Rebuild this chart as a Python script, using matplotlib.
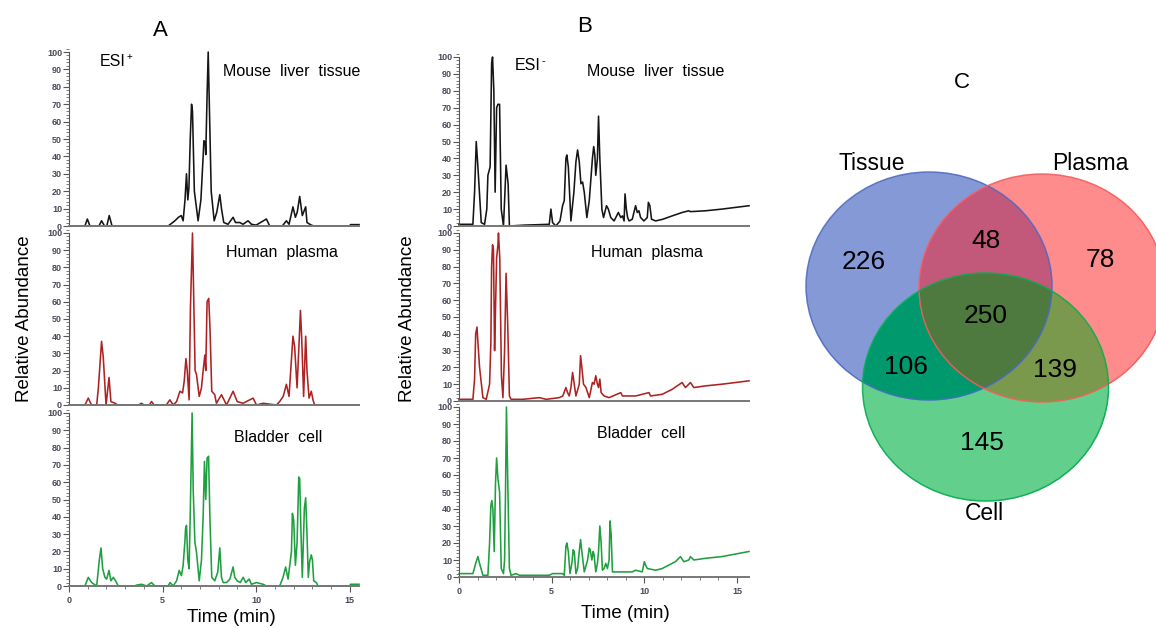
import numpy as np
import matplotlib
matplotlib.use("Agg")
import matplotlib.pyplot as plt
from matplotlib.patches import Ellipse
from matplotlib.ticker import MultipleLocator

plt.rcParams['font.family'] = ['Liberation Sans', 'DejaVu Sans']

# chromatograms: (time in min, relative abundance)
a_liver = [(0, 0), (0.85, 0), (0.98, 4), (1.12, 0), (1.6, 0), (1.74, 3), (1.9, 0), (2.02, 0), (2.15, 6), (2.3, 0),
           (5.3, 0), (5.66, 3), (5.85, 5), (6.0, 6), (6.1, 3), (6.2, 15), (6.28, 30), (6.35, 15), (6.41, 22),
           (6.48, 50), (6.55, 70), (6.6, 66), (6.7, 20), (6.9, 3), (7.05, 15), (7.17, 40), (7.21, 49), (7.28, 48),
           (7.31, 41), (7.38, 75), (7.44, 100), (7.49, 75), (7.6, 20), (7.76, 3), (7.9, 8), (8.06, 18), (8.15, 10),
           (8.27, 2), (8.5, 1), (8.77, 5), (8.9, 2), (9.13, 2), (9.3, 1), (9.57, 3), (9.75, 1), (10.0, 0.5),
           (10.55, 4), (10.73, 0), (11.4, 0), (11.62, 3), (11.76, 1), (11.97, 11), (12.1, 5), (12.2, 8),
           (12.33, 17), (12.47, 6), (12.65, 11), (12.72, 2), (12.95, 0.5), (13.1, 0), (15.0, 0), (15.05, 0.8),
           (15.5, 0.8)]
a_plasma = [(0, 0), (0.85, 0), (1.03, 4), (1.2, 0), (1.48, 0), (1.57, 10), (1.74, 37), (1.83, 28), (1.98, 0),
            (2.14, 16), (2.24, 2), (2.46, 1), (2.6, 0), (3.7, 0), (3.88, 1), (4.0, 0), (4.3, 0), (4.41, 2),
            (4.55, 0), (5.2, 0), (5.39, 3), (5.57, 0), (5.75, 2), (5.93, 8), (6.07, 7), (6.16, 14), (6.25, 27),
            (6.32, 20), (6.42, 3), (6.49, 56), (6.6, 100), (6.67, 60), (6.74, 20), (6.81, 18), (6.96, 5),
            (7.08, 10), (7.17, 20), (7.26, 29), (7.31, 20), (7.38, 60), (7.47, 62), (7.54, 43), (7.63, 8),
            (7.79, 6), (7.88, 1), (8.15, 6), (8.42, 0), (8.77, 8), (8.99, 2), (9.3, 1), (9.48, 2), (9.66, 3),
            (9.84, 4), (10.02, 0), (10.37, 1), (11.09, 0), (11.26, 2), (11.45, 5), (11.62, 12), (11.76, 5),
            (11.97, 40), (12.06, 34), (12.19, 10), (12.28, 32), (12.37, 55), (12.44, 38), (12.54, 5), (12.65, 40),
            (12.72, 20), (12.83, 4), (12.95, 8), (13.04, 3), (13.13, 0), (15.5, 0)]
a_cell = [(0, 0), (0.85, 0), (1.03, 5), (1.21, 2), (1.48, 0), (1.62, 15), (1.71, 22), (1.80, 10), (1.92, 5),
          (2.01, 4), (2.14, 9), (2.24, 3), (2.37, 5), (2.49, 3), (2.63, 0), (3.5, 0), (3.61, 0.5), (3.88, 1),
          (4.15, 0), (4.41, 2), (4.59, 0), (5.3, 0), (5.4, 2), (5.57, 0), (5.75, 3), (5.89, 9), (6.01, 6),
          (6.10, 12), (6.19, 25), (6.23, 33), (6.28, 35), (6.35, 15), (6.42, 10), (6.49, 47), (6.58, 100),
          (6.64, 55), (6.73, 25), (6.81, 20), (6.96, 3), (7.08, 15), (7.17, 40), (7.24, 72), (7.31, 50),
          (7.38, 74), (7.46, 75), (7.53, 40), (7.63, 5), (7.79, 3), (7.95, 8), (8.06, 22), (8.15, 5), (8.24, 2),
          (8.42, 2), (8.6, 4), (8.77, 11), (8.86, 5), (8.99, 3), (9.15, 2), (9.31, 5), (9.45, 2), (9.63, 4),
          (9.75, 1), (10.02, 2), (10.37, 1), (10.55, 0), (11.26, 0), (11.44, 5), (11.58, 11), (11.71, 4),
          (11.89, 20), (11.94, 42), (12.01, 38), (12.10, 12), (12.19, 25), (12.28, 63), (12.33, 62), (12.40, 30),
          (12.47, 5), (12.58, 45), (12.65, 51), (12.72, 30), (12.79, 5), (12.86, 14), (12.95, 18), (13.01, 15),
          (13.08, 3), (13.22, 2), (13.31, 0), (15.0, 0), (15.05, 1), (15.5, 1)]

b_liver = [(0, 1), (0.75, 1), (0.84, 20), (0.93, 50), (1.02, 35), (1.20, 2), (1.38, 1), (1.50, 10), (1.56, 30),
           (1.68, 35), (1.76, 96), (1.81, 100), (1.88, 80), (1.95, 20), (2.03, 70), (2.10, 72), (2.19, 72),
           (2.28, 10), (2.40, 0), (2.46, 15), (2.54, 36), (2.65, 25), (2.72, 0), (3.5, 0.5), (4.87, 1), (4.96, 10),
           (5.05, 2), (5.23, 0), (5.45, 3), (5.59, 12), (5.68, 15), (5.77, 40), (5.82, 42), (5.90, 35), (6.04, 3),
           (6.2, 20), (6.31, 38), (6.40, 45), (6.49, 38), (6.58, 25), (6.67, 26), (6.76, 20), (6.90, 5),
           (7.03, 15), (7.20, 40), (7.27, 47), (7.33, 42), (7.38, 30), (7.47, 40), (7.53, 65), (7.60, 40),
           (7.71, 10), (7.80, 5), (7.96, 12), (8.06, 10), (8.19, 5), (8.37, 3), (8.60, 8), (8.73, 5), (8.82, 6),
           (8.91, 3), (8.96, 19), (9.03, 10), (9.10, 5), (9.18, 3), (9.35, 4), (9.53, 12), (9.62, 8), (9.71, 9),
           (9.80, 5), (9.98, 3), (10.16, 5), (10.22, 14), (10.30, 12), (10.39, 4), (10.61, 3), (11.0, 4),
           (11.51, 6), (12.04, 8), (12.40, 9), (12.49, 8.5), (13.30, 9), (14.19, 10), (15.65, 12)]
b_plasma = [(0, 1), (0.75, 1), (0.84, 13), (0.90, 40), (0.97, 44), (1.02, 35), (1.11, 20), (1.29, 2), (1.47, 1),
            (1.65, 10), (1.72, 35), (1.76, 80), (1.81, 93), (1.86, 90), (1.92, 30), (1.97, 55), (2.03, 85),
            (2.10, 93), (2.13, 100), (2.20, 85), (2.29, 15), (2.37, 2), (2.46, 30), (2.54, 76), (2.63, 45),
            (2.72, 3), (2.81, 1), (3.44, 1), (4.34, 2), (4.70, 1), (5.41, 2), (5.60, 3), (5.77, 8), (5.86, 5),
            (5.95, 3), (6.04, 8), (6.13, 17), (6.22, 10), (6.31, 3), (6.49, 10), (6.56, 27), (6.63, 20),
            (6.72, 10), (6.85, 8), (7.03, 2), (7.20, 11), (7.29, 10), (7.38, 15), (7.47, 10), (7.53, 8),
            (7.60, 13), (7.67, 5), (7.83, 3), (8.10, 2), (8.73, 5), (8.82, 3), (9.53, 3), (10.25, 5), (10.34, 3),
            (10.97, 4), (11.51, 7), (12.04, 11), (12.22, 8), (12.49, 11), (12.67, 8), (13.30, 9), (14.19, 10),
            (15.65, 12)]
b_cell = [(0, 2), (0.75, 2), (0.90, 8), (1.02, 12), (1.11, 8), (1.29, 1), (1.56, 1), (1.65, 20), (1.72, 42),
          (1.77, 45), (1.83, 40), (1.90, 15), (1.97, 55), (2.03, 70), (2.10, 58), (2.19, 50), (2.28, 5), (2.40, 2),
          (2.46, 10), (2.51, 50), (2.56, 100), (2.63, 57), (2.72, 5), (2.81, 1), (3.08, 2), (3.26, 1), (4.34, 1),
          (4.87, 1), (5.05, 2), (5.59, 2), (5.68, 1), (5.77, 18), (5.82, 20), (5.90, 15), (5.99, 2), (6.09, 8),
          (6.16, 16), (6.22, 15), (6.31, 2), (6.40, 5), (6.49, 15), (6.56, 22), (6.63, 15), (6.76, 3), (6.94, 10),
          (7.03, 17), (7.08, 16), (7.17, 10), (7.24, 15), (7.29, 13), (7.38, 3), (7.47, 8), (7.53, 15),
          (7.60, 30), (7.67, 20), (7.74, 4), (7.83, 5), (7.92, 8), (8.01, 5), (8.10, 10), (8.15, 33), (8.21, 25),
          (8.28, 3), (8.64, 3), (9.35, 3), (9.53, 4), (9.89, 3), (10.0, 9), (10.07, 7), (10.16, 5), (10.61, 4),
          (10.97, 5), (11.68, 9), (11.95, 12), (12.13, 9), (12.40, 10), (12.49, 12), (12.67, 10), (13.30, 11),
          (14.19, 12), (15.65, 15)]

sample_names = ["Mouse  liver  tissue", "Human  plasma", "Bladder  cell"]
trace_colors = ["#151515", "#ad2323", "#1f9f3f"]

# venn
set_names = ["Tissue", "Plasma", "Cell"]
only_tissue, only_plasma, only_cell = 226, 78, 145
tissue_plasma, tissue_cell, plasma_cell = 48, 106, 139
all_three = 250

W, H = 1156, 628
fig = plt.figure(figsize=(W / 100, H / 100), dpi=100)


def add_ax(left, y0, width, per_unit):
    height = per_unit * 102
    return fig.add_axes([left / W, 1 - y0 / H, width / W, height / H])


def style(ax, xmax, show_x):
    ax.set_facecolor("none")
    ax.set_xlim(0, xmax)
    ax.set_ylim(0, 102)
    ax.spines["top"].set_visible(False)
    ax.spines["right"].set_visible(False)
    ax.spines["left"].set_bounds(0, 100)
    ax.spines["left"].set_color("#555555")
    ax.spines["bottom"].set_color("#777777")
    ax.spines["bottom"].set_linewidth(1.4)
    ax.set_yticks(range(0, 101, 10))
    ax.yaxis.set_minor_locator(MultipleLocator(2))
    ax.tick_params(axis="both", which="major", length=4, width=0.8, color="#555555",
                   labelsize=6.5, labelcolor="#4a4a5a", pad=1)
    ax.tick_params(axis="both", which="minor", length=2.5, width=0.6, color="#666666")
    if show_x:
        ax.set_xticks([0, 5, 10, 15])
        ax.xaxis.set_minor_locator(MultipleLocator(1))
        ax.tick_params(axis="x", which="major", pad=3)
    else:
        ax.set_xticks([])
        ax.xaxis.set_minor_locator(plt.NullLocator())
    for lbl in ax.get_yticklabels() + ax.get_xticklabels():
        lbl.set_fontweight("bold")


def draw(ax, trace, color):
    t = [p[0] for p in trace]
    y = [p[1] for p in trace]
    ax.plot(t, y, color=color, lw=1.15, clip_on=False)


# panel A
a_rows = [(226, 1.74), (405, 1.72), (586, 1.73)]
for i, (trace, (y0, pu)) in enumerate(zip([a_liver, a_plasma, a_cell], a_rows)):
    ax = add_ax(69, y0, 290, pu)
    style(ax, 15.5, i == 2)
    draw(ax, trace, trace_colors[i])

# panel B
b_rows = [(226, 1.69), (401, 1.68), (577, 1.70)]
for i, (trace, (y0, pu)) in enumerate(zip([b_liver, b_plasma, b_cell], b_rows)):
    ax = add_ax(459, y0, 290, pu)
    style(ax, 15.65, i == 2)
    draw(ax, trace, trace_colors[i])


def ftext(x, y, s, **kw):
    fig.text(x / W, 1 - y / H, s, **kw)


ftext(160, 30, "A", fontsize=16, ha="center", va="center")
ftext(585, 27, "B", fontsize=16, ha="center", va="center")
ftext(100, 62, "ESI", fontsize=11.5, ha="left", va="center")
ftext(126.5, 57, "+", fontsize=7, ha="left", va="center")
ftext(515, 65, "ESI", fontsize=11.5, ha="left", va="center")
ftext(541.5, 61, "-", fontsize=8, ha="left", va="center")
for name, x, y in zip(sample_names, [223, 226, 234], [71, 253, 437]):
    ftext(x, y, name, fontsize=11.5, ha="left", va="center")
for name, x, y in zip(sample_names, [587, 591, 597], [71, 253, 434]):
    ftext(x, y, name, fontsize=11.5, ha="left", va="center")
ftext(25, 319, "Relative Abundance", fontsize=13.5, rotation=90, ha="center", va="center")
ftext(408, 319, "Relative Abundance", fontsize=13.5, rotation=90, ha="center", va="center")
ftext(231, 618, "Time (min)", fontsize=13.5, ha="center", va="center")
ftext(625, 613, "Time (min)", fontsize=13.5, ha="center", va="center")

# panel C: venn drawn in pixel space
axv = fig.add_axes([0, 0, 1, 1], zorder=-1)
axv.set_xlim(0, W)
axv.set_ylim(H, 0)
axv.axis("off")

circles = [(929, 286), (1042, 288), (985.5, 387)]
rx, ry = 123, 114
edge_colors = ["#4a6ac8", "#ff5a5a", "#00b04c"]
region_colors = {
    (1, 0, 0): "#8599d8", (0, 1, 0): "#ff8c8c", (0, 0, 1): "#62d08c",
    (1, 1, 0): "#c2587a", (1, 0, 1): "#009a6e", (0, 1, 1): "#7a9a4c",
    (1, 1, 1): "#4f7a40",
}
gx = np.arange(790, 1156, 0.5)
gy = np.arange(160, 510, 0.5)
X, Y = np.meshgrid(gx, gy)
inside = [((X - cx) / rx) ** 2 + ((Y - cy) / ry) ** 2 <= 1 for cx, cy in circles]
img = np.zeros(X.shape + (4,))
for key, col in region_colors.items():
    mask = np.ones(X.shape, bool)
    for k, m in zip(key, inside):
        mask &= m if k else ~m
    img[mask] = matplotlib.colors.to_rgba(col)
axv.imshow(img, extent=(790, 1156, 510, 160), interpolation="antialiased", aspect="auto")
axv.set_xlim(0, W)
axv.set_ylim(H, 0)
for (cx, cy), ec in zip(circles, edge_colors):
    axv.add_patch(Ellipse((cx, cy), 2 * rx, 2 * ry, fill=False, ec=ec, lw=1.1, alpha=0.85))

axv.text(962, 82, "C", fontsize=16, ha="center", va="center")
for name, (x, y) in zip(set_names, [(872, 163), (1090, 163), (984, 513)]):
    axv.text(x, y, name, fontsize=16.5, ha="center", va="center")
counts = [only_tissue, tissue_plasma, only_plasma, all_three, tissue_cell, plasma_cell, only_cell]
count_pos = [(864, 262), (986, 241), (1100, 260), (986, 316), (906, 367), (1055, 370), (982, 443)]
for c, (x, y) in zip(counts, count_pos):
    axv.text(x, y, str(c), fontsize=19, ha="center", va="center")

fig.savefig("out.png", dpi=100)
